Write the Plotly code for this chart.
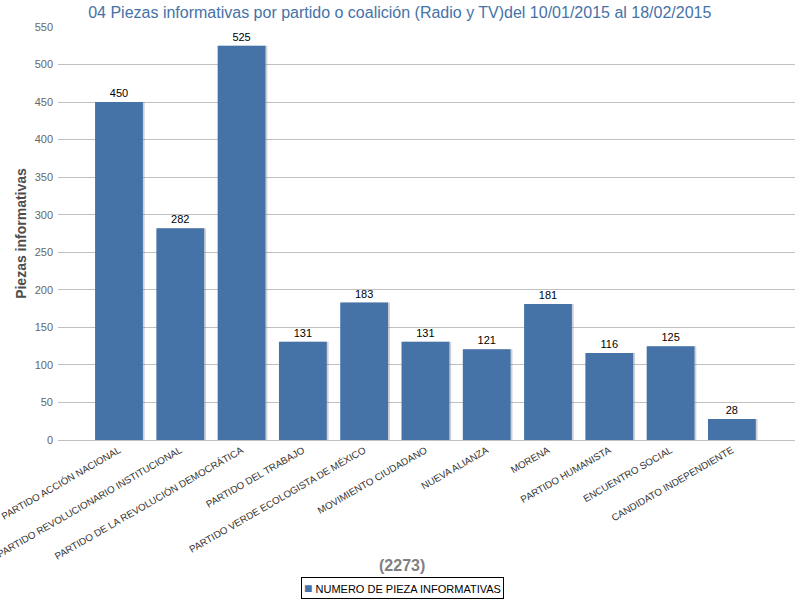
import plotly.graph_objects as go

# ── Data ────────────────────────────────────────────────────────────────
partidos = [
    'PARTIDO ACCIÓN NACIONAL',
    'PARTIDO REVOLUCIONARIO INSTITUCIONAL',
    'PARTIDO DE LA REVOLUCIÓN DEMOCRÁTICA',
    'PARTIDO DEL TRABAJO',
    'PARTIDO VERDE ECOLOGISTA DE MÉXICO',
    'MOVIMIENTO CIUDADANO',
    'NUEVA ALIANZA',
    'MORENA',
    'PARTIDO HUMANISTA',
    'ENCUENTRO SOCIAL',
    'CANDIDATO INDEPENDIENTE',
]
piezas = [450, 282, 525, 131, 183, 131, 121, 181, 116, 125, 28]
total = 2273
serie = 'NUMERO DE PIEZA INFORMATIVAS'
y_ticks = list(range(0, 551, 50))

BLUE = '#4572A7'
FONT = 'Liberation Sans, Arial, sans-serif'

fig = go.Figure()

# soft shadow behind bars
fig.add_trace(go.Bar(
    x=partidos, y=piezas, width=0.78, offset=-0.36,
    marker=dict(color='rgba(120,120,140,0.35)', line=dict(width=0)),
    hoverinfo='skip', showlegend=False
))

fig.add_trace(go.Bar(
    x=partidos, y=piezas, width=0.78, offset=-0.39,
    name=serie,
    marker=dict(color=BLUE, line=dict(width=0)),
    text=[str(v) for v in piezas], textposition='outside',
    textfont=dict(family=FONT, size=11, color='#000000'),
    cliponaxis=False, showlegend=False
))

# total under the axis labels
fig.add_annotation(
    text=f'<b>({total})</b>', xref='paper', yref='paper',
    x=0.467, y=-0.303, yanchor='middle', showarrow=False,
    font=dict(family=FONT, size=16, color='#808080')
)

# legend box
fig.add_annotation(
    text=f'<span style="color:{BLUE};font-size:14px">■</span> {serie}',
    xref='paper', yref='paper', x=0.467, y=-0.358, yanchor='middle',
    showarrow=False,
    font=dict(family=FONT, size=11, color='#000000'),
    bordercolor='#000000', borderwidth=1, borderpad=2, bgcolor='white'
)

fig.update_layout(
    width=806, height=602,
    barmode='overlay',
    plot_bgcolor='white', paper_bgcolor='white',
    margin=dict(l=58, r=11, t=27, b=162, autoexpand=False),
    title=dict(
        text='04 Piezas informativas por partido o coalición (Radio y TV)del 10/01/2015 al 18/02/2015',
        font=dict(family=FONT, size=16, color='#4572A7'),
        x=0.496, xanchor='center', y=0.98, yanchor='middle'
    ),
    xaxis=dict(
        range=[-0.995, 11.03], tickangle=-30, automargin=False,
        tickfont=dict(family=FONT, size=9.8, color='#333333'),
        showgrid=False, showline=True, linecolor='#C0C0C0', linewidth=1,
        ticks=''
    ),
    yaxis=dict(
        range=[0, 550], tickvals=y_ticks, automargin=False,
        tickfont=dict(family=FONT, size=11, color='#666666'),
        ticklabelstandoff=4,
        showgrid=True, gridcolor='#C0C0C0', gridwidth=1,
        zeroline=False, ticks='',
        title=dict(text='<b>Piezas informativas</b>',
                   font=dict(family=FONT, size=14, color='#4D4D4D'),
                   standoff=4)
    ),
    showlegend=False,
    bargap=0.2
)

fig.write_html('out.html', config={'displayModeBar': False},
               post_script="document.body.style.margin='0px';")
